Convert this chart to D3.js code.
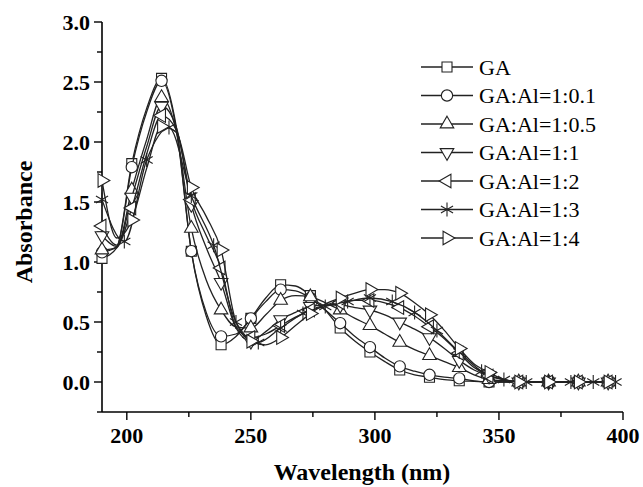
<!DOCTYPE html>
<html>
<head>
<meta charset="utf-8">
<script src="https://cdn.jsdelivr.net/npm/d3@7"></script>
<style>
  body { margin: 0; background: #fff; }
  text { font-family: "Liberation Serif", "Times New Roman", serif; }
</style>
</head>
<body>
<div id="chart"></div>
<script>
// wavelength grid (nm) shared by most series, markers on every other point
const wavelengths = [190, 196, 202, 208, 214, 220, 226, 232, 238, 244, 250, 256, 262, 268, 274, 280, 286, 292,
  298, 304, 310, 316, 322, 328, 334, 340, 346, 352, 358, 364, 370, 376, 382, 388, 394];
// the 1:3 curve was sampled on its own grid
const wavelengths13 = [190, 199, 208, 217, 226, 235, 244, 253, 262, 271, 280, 289, 298, 307, 316, 325, 334,
  343, 352, 361, 370, 379, 388, 397];

const labels = ["GA", "GA:Al=1:0.1", "GA:Al=1:0.5", "GA:Al=1:1", "GA:Al=1:2", "GA:Al=1:3", "GA:Al=1:4"];

const absGA = [1.03, 1.12, 1.82, 2.28, 2.53, 2.12, 1.09, 0.55, 0.31, 0.38, 0.53, 0.70, 0.81, 0.80, 0.72, 0.60, 0.45,
  0.34, 0.25, 0.17, 0.10, 0.06, 0.04, 0.02, 0.01, 0.005, 0, 0, 0, 0, 0, 0, 0, 0, 0];
const abs01 = [1.08, 1.13, 1.79, 2.25, 2.51, 2.10, 1.09, 0.58, 0.38, 0.40, 0.53, 0.67, 0.77, 0.76, 0.70, 0.60, 0.49,
  0.38, 0.29, 0.20, 0.13, 0.09, 0.06, 0.04, 0.03, 0.01, 0, 0, 0, 0, 0, 0, 0, 0, 0];
const abs05 = [1.10, 1.12, 1.60, 2.02, 2.37, 2.08, 1.28, 0.85, 0.60, 0.46, 0.45, 0.56, 0.68, 0.72, 0.71, 0.66, 0.60,
  0.53, 0.47, 0.40, 0.33, 0.27, 0.22, 0.17, 0.12, 0.06, 0.02, 0.01, 0, 0, 0, 0, 0, 0, 0];
const abs1 = [1.22, 1.13, 1.54, 1.96, 2.30, 2.12, 1.48, 1.12, 0.83, 0.45, 0.34, 0.42, 0.52, 0.58, 0.63, 0.64, 0.64,
  0.62, 0.60, 0.56, 0.50, 0.44, 0.37, 0.28, 0.18, 0.10, 0.05, 0.02, 0, 0, 0, 0, 0, 0, 0];
const abs2 = [1.30, 1.14, 1.45, 1.90, 2.22, 2.10, 1.52, 1.22, 0.95, 0.46, 0.37, 0.40, 0.47, 0.54, 0.60, 0.64, 0.66,
  0.68, 0.68, 0.66, 0.62, 0.55, 0.46, 0.36, 0.24, 0.12, 0.05, 0.02, 0, 0, 0, 0, 0, 0, 0];
const abs3 = [1.52, 1.17, 1.85, 2.12, 1.55, 1.14, 0.50, 0.33, 0.45, 0.57, 0.63, 0.67, 0.70, 0.67, 0.58, 0.43, 0.25,
  0.09, 0.02, 0, 0, 0, 0, 0];
const abs4 = [1.68, 1.20, 1.35, 1.78, 2.13, 2.08, 1.62, 1.38, 1.10, 0.50, 0.34, 0.31, 0.37, 0.47, 0.57, 0.65, 0.70,
  0.74, 0.77, 0.77, 0.74, 0.66, 0.56, 0.43, 0.28, 0.15, 0.08, 0.02, 0, 0, 0, 0, 0, 0, 0];

const xTicks = [200, 250, 300, 350, 400];
const yTicks = [0, 0.5, 1.0, 1.5, 2.0, 2.5, 3.0];

const width = 643, height = 487;
const margin = { left: 102, right: 20, top: 22, bottom: 75 };
const ink = "#222";

const svg = d3.select("#chart").append("svg")
  .attr("width", width).attr("height", height);

const x = d3.scaleLinear().domain([190, 400]).range([margin.left, 623]);
const y = d3.scaleLinear().domain([-0.25, 3.0]).range([412, margin.top]);

// marker shapes
function tri(rot) {
  const p = d3.symbol(d3.symbolTriangle, 80)();
  return { path: p, rot: rot };
}
const asteriskPath = (() => {
  const r = 7;
  const p = d3.path();
  for (const a of [90, 30, 150]) {
    const t = a * Math.PI / 180;
    p.moveTo(-r * Math.cos(t), -r * Math.sin(t));
    p.lineTo(r * Math.cos(t), r * Math.sin(t));
  }
  return p.toString();
})();
const markers = [
  { path: d3.symbol(d3.symbolSquare, 100)(), rot: 0 },
  { path: d3.symbol(d3.symbolCircle, 100)(), rot: 0 },
  tri(0), tri(180), tri(-90),
  { path: asteriskPath, rot: 0, star: true },
  tri(90)
];

const seriesValues = [absGA, abs01, abs05, abs1, abs2, abs3, abs4];
const series = seriesValues.map((vals, i) => {
  const xs = i === 5 ? wavelengths13 : wavelengths;
  return {
    name: labels[i],
    marker: markers[i],
    points: xs.map((w, j) => ({ w: w, a: vals[j], mark: i === 5 ? true : j % 2 === 0 }))
  };
});

function drawMarker(g, m, cx, cy) {
  const el = g.append("path")
    .attr("d", m.path)
    .attr("transform", `translate(${cx},${cy}) rotate(${m.rot})`)
    .attr("stroke", ink)
    .attr("stroke-width", 1.1);
  if (m.star) el.attr("fill", "none");
  else el.attr("fill", "#fff");
}

// axes
const xAxis = svg.append("g").attr("transform", `translate(0,${y(-0.25)})`);
xAxis.append("line").attr("x1", x(190)).attr("x2", x(400)).attr("stroke", "#000").attr("stroke-width", 1.6);
xAxis.selectAll(".maj").data(xTicks).join("line")
  .attr("x1", d => x(d)).attr("x2", d => x(d)).attr("y1", 0).attr("y2", 8)
  .attr("stroke", "#000").attr("stroke-width", 1.4);
xAxis.selectAll(".min").data(d3.range(225, 400, 50)).join("line")
  .attr("x1", d => x(d)).attr("x2", d => x(d)).attr("y1", 0).attr("y2", 5)
  .attr("stroke", "#000").attr("stroke-width", 1.4);
xAxis.selectAll("text").data(xTicks).join("text")
  .attr("x", d => x(d)).attr("y", 31)
  .attr("text-anchor", "middle").attr("font-size", 22).attr("font-weight", "bold")
  .text(d => d);

const yAxis = svg.append("g").attr("transform", `translate(${x(190)},0)`);
yAxis.append("line").attr("y1", y(-0.25)).attr("y2", y(3.0)).attr("stroke", "#000").attr("stroke-width", 1.6);
yAxis.selectAll(".maj").data(yTicks).join("line")
  .attr("y1", d => y(d)).attr("y2", d => y(d)).attr("x1", 0).attr("x2", -8)
  .attr("stroke", "#000").attr("stroke-width", 1.4);
yAxis.selectAll(".min").data(d3.range(-0.25, 3.0, 0.5)).join("line")
  .attr("y1", d => y(d)).attr("y2", d => y(d)).attr("x1", 0).attr("x2", -5)
  .attr("stroke", "#000").attr("stroke-width", 1.4);
yAxis.selectAll("text").data(yTicks).join("text")
  .attr("x", -12).attr("y", d => y(d)).attr("dy", "0.35em")
  .attr("text-anchor", "end").attr("font-size", 22).attr("font-weight", "bold")
  .text(d => d.toFixed(1));

svg.append("text")
  .attr("x", 362).attr("y", 480)
  .attr("text-anchor", "middle").attr("font-size", 24).attr("font-weight", "bold")
  .text("Wavelength (nm)");
svg.append("text")
  .attr("transform", "translate(32,222) rotate(-90)")
  .attr("text-anchor", "middle").attr("font-size", 24).attr("font-weight", "bold")
  .text("Absorbance");

// curves
const line = d3.line().x(d => x(d.w)).y(d => y(d.a)).curve(d3.curveMonotoneX);
const plot = svg.append("g");
series.forEach(s => {
  const g = plot.append("g");
  g.append("path").attr("d", line(s.points))
    .attr("fill", "none").attr("stroke", ink).attr("stroke-width", 1.3);
  s.points.filter(p => p.mark).forEach(p => drawMarker(g, s.marker, x(p.w), y(p.a)));
});

// legend
const legend = svg.append("g").attr("transform", "translate(421,67)");
series.forEach((s, i) => {
  const row = legend.append("g").attr("transform", `translate(0,${i * 28.5})`);
  row.append("line").attr("x1", 0).attr("x2", 52).attr("stroke", ink).attr("stroke-width", 1.3);
  drawMarker(row, s.marker, 26, 0);
  row.append("text").attr("x", 58).attr("dy", "0.35em")
    .attr("font-size", 22).text(s.name);
});
</script>
</body>
</html>
